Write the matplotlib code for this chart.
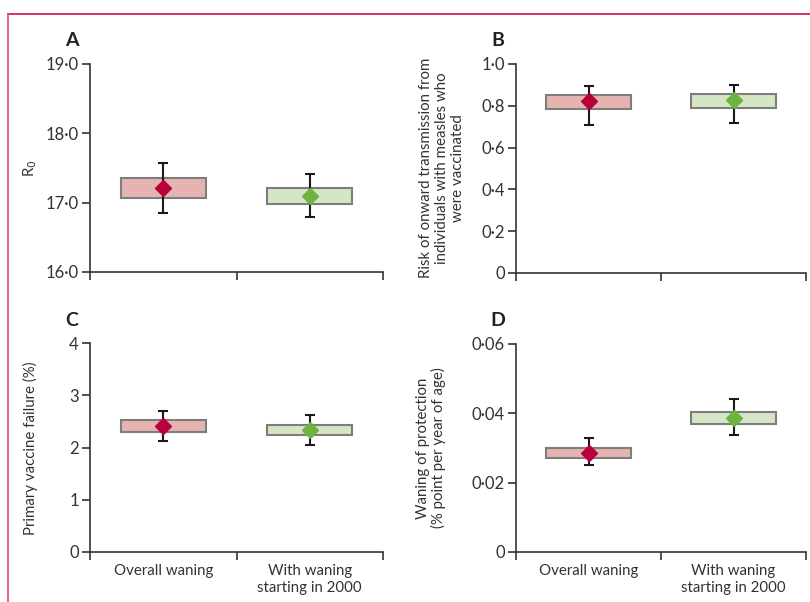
import matplotlib
matplotlib.use("Agg")
import matplotlib.pyplot as plt
from matplotlib.lines import Line2D

plt.rcParams["font.family"] = ["Lato", "DejaVu Sans"]

categories = ["Overall waning", "With waning\nstarting in 2000"]

# per panel: box low/high, point estimate, error low/high (one value per category)
r0_box_low = [17.07, 16.98]
r0_box_high = [17.35, 17.21]
r0_mid = [17.21, 17.09]
r0_err_low = [16.855, 16.79]
r0_err_high = [17.57, 17.41]

risk_box_low = [0.786, 0.791]
risk_box_high = [0.850, 0.855]
risk_mid = [0.821, 0.829]
risk_err_low = [0.708, 0.718]
risk_err_high = [0.895, 0.900]

pvf_box_low = [2.30, 2.23]
pvf_box_high = [2.52, 2.44]
pvf_mid = [2.41, 2.34]
pvf_err_low = [2.13, 2.05]
pvf_err_high = [2.69, 2.63]

wan_box_low = [0.0271, 0.0368]
wan_box_high = [0.0300, 0.0404]
wan_mid = [0.0285, 0.0387]
wan_err_low = [0.0251, 0.0337]
wan_err_high = [0.0329, 0.0442]

r0_ticks = [16.0, 17.0, 18.0, 19.0]
r0_ticklabels = ["16·0", "17·0", "18·0", "19·0"]
risk_ticks = [0, 0.2, 0.4, 0.6, 0.8, 1.0]
risk_ticklabels = ["0", "0·2", "0·4", "0·6", "0·8", "1·0"]
pvf_ticks = [0, 1, 2, 3, 4]
pvf_ticklabels = ["0", "1", "2", "3", "4"]
wan_ticks = [0, 0.02, 0.04, 0.06]
wan_ticklabels = ["0", "0·02", "0·04", "0·06"]

box_fill = ["#e6b4b0", "#d4e6c6"]
marker_col = ["#b8003c", "#6cb43f"]
W, H = 810, 602


def draw_panel(ax, box_low, box_high, mid, err_low, err_high, ticks, ticklabels, show_x):
    xs = [0.5, 1.5]
    heights = [h - l for l, h in zip(box_low, box_high)]
    ax.bar(xs, heights, bottom=box_low, width=0.58, color=box_fill,
           edgecolor="#7d7d7d", linewidth=1.5, zorder=2)
    yerr = [[m - l for m, l in zip(mid, err_low)], [h - m for m, h in zip(mid, err_high)]]
    ax.errorbar(xs, mid, yerr=yerr, fmt="none", ecolor="#1a1a1a", elinewidth=1.5,
                capsize=3.3, capthick=1.5, zorder=3)
    for x, m, c in zip(xs, mid, marker_col):
        ax.plot([x], [m], marker="D", markersize=8, color=c, linestyle="none", zorder=4)

    ax.set_xlim(0, 2)
    ax.set_ylim(ticks[0], ticks[-1])
    ax.set_yticks(ticks)
    ax.set_yticklabels(ticklabels)
    ax.set_xticks([0, 1, 2])
    ax.set_xticklabels([])
    ax.tick_params(axis="both", which="major", direction="out", length=6, width=1.2,
                   color="#333333", labelsize=12, labelcolor="#333333", pad=2)
    if show_x:
        ax.set_xticks(xs, minor=True)
        ax.set_xticklabels(categories, minor=True)
        ax.tick_params(axis="x", which="minor", length=0, pad=9, labelsize=10.8,
                       labelcolor="#333333")
    for side in ["top", "right"]:
        ax.spines[side].set_visible(False)
    for side in ["left", "bottom"]:
        ax.spines[side].set_linewidth(1.2)
        ax.spines[side].set_color("#333333")


fig = plt.figure(figsize=(8.1, 6.02), dpi=100)

ax_a = fig.add_axes([90 / W, 1 - 272 / H, 293 / W, 208 / H])
ax_b = fig.add_axes([516 / W, 1 - 273 / H, 290 / W, 209 / H])
ax_c = fig.add_axes([90 / W, 1 - 552 / H, 293 / W, 209 / H])
ax_d = fig.add_axes([516 / W, 1 - 552 / H, 290 / W, 208 / H])

draw_panel(ax_a, r0_box_low, r0_box_high, r0_mid, r0_err_low, r0_err_high,
           r0_ticks, r0_ticklabels, False)
draw_panel(ax_b, risk_box_low, risk_box_high, risk_mid, risk_err_low, risk_err_high,
           risk_ticks, risk_ticklabels, False)
draw_panel(ax_c, pvf_box_low, pvf_box_high, pvf_mid, pvf_err_low, pvf_err_high,
           pvf_ticks, pvf_ticklabels, True)
draw_panel(ax_d, wan_box_low, wan_box_high, wan_mid, wan_err_low, wan_err_high,
           wan_ticks, wan_ticklabels, True)

# panel letters
for letter, px, py in [("A", 72, 40), ("B", 498, 40), ("C", 72, 320), ("D", 498, 320)]:
    fig.text(px / W, 1 - py / H, letter, ha="center", va="center",
             fontsize=14, fontweight="bold", color="#222222")

# y axis titles
ylabels = [
    ("R$_0$", 30, 168),
    ("Risk of onward transmission from\nindividuals with measles who\nwere vaccinated", 442, 168),
    ("Primary vaccine failure (%)", 30, 448),
    ("Waning of protection\n(% point per year of age)", 431, 448),
]
for txt, px, py in ylabels:
    fig.text(px / W, 1 - py / H, txt, rotation=90, ha="center", va="center",
             multialignment="center", fontsize=10.8, color="#333333", linespacing=1.15)

# frame lines
fig.add_artist(Line2D([8 / W, 1], [1 - 14 / H, 1 - 14 / H], color="#c8154c", linewidth=1.2))
fig.add_artist(Line2D([8 / W, 8 / W], [0, 1 - 14 / H], color="#dc4a7c", linewidth=1.2))

fig.savefig("out.png", dpi=100)
